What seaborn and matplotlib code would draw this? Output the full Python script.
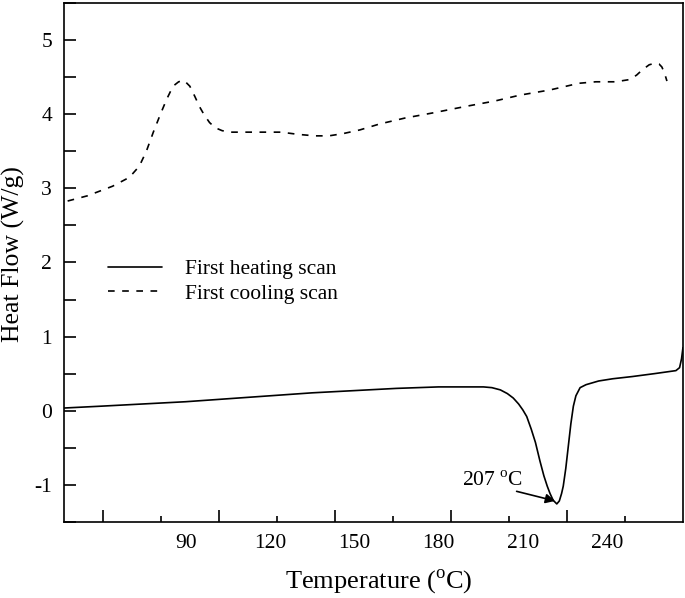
import numpy as np
import pandas as pd
import matplotlib
matplotlib.use("Agg")
import matplotlib.pyplot as plt
import seaborn as sns

# DSC curves
heat_temp = [46.8, 60, 75, 90, 105, 120, 135, 150, 165, 180, 190, 196, 199, 202,
             204.5, 206.6, 208.5, 210, 211.4, 213, 214.5, 216.1, 217.5, 218.7,
             219.7, 220.8, 222.1, 223, 223.8, 224.4, 225.3, 226.2, 227.1, 228,
             228.9, 230.4, 232.5, 237, 242, 249, 257, 264.5, 265.8, 266.5, 267]
heat_flow = [0.035, 0.06, 0.09, 0.12, 0.16, 0.20, 0.24, 0.27, 0.30, 0.32, 0.32,
             0.32, 0.31, 0.28, 0.23, 0.17, 0.09, 0.01, -0.08, -0.25, -0.43,
             -0.68, -0.88, -1.02, -1.12, -1.21, -1.26, -1.22, -1.12, -1.02,
             -0.78, -0.48, -0.18, 0.06, 0.20, 0.31, 0.35, 0.40, 0.43, 0.46,
             0.50, 0.54, 0.58, 0.70, 0.85]

cool_temp = [48, 55, 64, 70, 73.5, 76, 78.5, 81, 83.2, 85.5, 87.5, 89.4, 91.5,
             93.3, 95, 96.5, 98.5, 100.5, 103, 106, 112, 118, 124, 130, 136, 141,
             146, 152, 159, 168, 178, 190, 200, 209, 219.7, 230, 236, 243, 248,
             250.5, 252.5, 255, 257, 258.5, 259.5, 260.5, 261.3]
cool_flow = [2.83, 2.90, 3.03, 3.15, 3.30, 3.50, 3.76, 4.00, 4.20, 4.38, 4.44,
             4.46, 4.38, 4.24, 4.10, 4.00, 3.89, 3.82, 3.78, 3.76, 3.76, 3.76,
             3.76, 3.73, 3.71, 3.71, 3.74, 3.79, 3.87, 3.95, 4.02, 4.11, 4.18,
             4.26, 4.33, 4.42, 4.44, 4.44, 4.47, 4.53, 4.60, 4.67, 4.69, 4.68,
             4.64, 4.55, 4.45]

tick_labels = [90, 120, 150, 180, 210, 240]
peak_label = "207 $^{\\mathrm{o}}$C"

heat_df = pd.DataFrame({"T": heat_temp, "HF": heat_flow})
cool_df = pd.DataFrame({"T": cool_temp, "HF": cool_flow})

sns.set_style("ticks", {"axes.edgecolor": "black", "text.color": "black",
                        "xtick.color": "black", "ytick.color": "black",
                        "axes.labelcolor": "black"})
plt.rcParams["font.family"] = ["Liberation Serif", "DejaVu Serif"]
plt.rcParams["mathtext.fontset"] = "custom"
plt.rcParams["mathtext.rm"] = "Liberation Serif"
plt.rcParams["axes.unicode_minus"] = False

fig = plt.figure(figsize=(6.85, 5.98), dpi=100)
ax = fig.add_axes([0.0934, 0.1276, 0.9036, 0.8669])

sns.lineplot(data=heat_df, x="T", y="HF", ax=ax, color="black", lw=1.2,
             label="First heating scan")
sns.lineplot(data=cool_df, x="T", y="HF", ax=ax, color="black", lw=1.2,
             label="First cooling scan")
ax.lines[1].set_dashes((4, 4.5))

ax.set_xlim(46.7, 267.0)
ax.set_ylim(-1.5, 5.5)

# tick labels (no marks) on the main axis
ax.set_xticks(tick_labels)
ax.set_xticklabels([str(t) for t in tick_labels])
ax.tick_params(axis="x", length=0, pad=8.6, labelsize=15.5)
ax.set_yticks([-1, 0, 1, 2, 3, 4, 5])
ax.set_yticks(np.arange(-1.5, 5.6, 0.5), minor=True)
ax.tick_params(axis="y", which="both", direction="in", length=8.6, width=1.2,
               pad=8.6, labelsize=15.5)

# tick marks on the bottom edge sit on their own spacing
ax2 = ax.twiny()
ax2.set_xlim(36.6, 250)
ax2.xaxis.set_ticks_position("bottom")
ax2.set_xticks(np.arange(50, 250, 40))
ax2.set_xticks(np.arange(70, 250, 40), minor=True)
ax2.tick_params(axis="x", which="major", direction="in", length=8.6, width=1.2,
                labelbottom=False, labeltop=False, color="black")
ax2.tick_params(axis="x", which="minor", direction="in", length=4.3, width=1.2,
                labelbottom=False, labeltop=False, color="black")
for s in ax2.spines.values():
    s.set_visible(False)

for s in ax.spines.values():
    s.set_visible(True)
    s.set_linewidth(1.2)
    s.set_color("black")

ax.set_xlabel("Temperature ($^{\\mathrm{o}}$C)", fontsize=19)
ax.set_ylabel("Heat Flow (W/g)", fontsize=18.5)
ax.xaxis.set_label_coords(0.508, -0.087)
ax.yaxis.set_label_coords(-0.063, 0.517)

leg = ax.legend(loc="center left", bbox_to_anchor=(0.0716, 0.4637), frameon=False,
                fontsize=15.5, handlelength=2.48, handletextpad=1.08,
                labelspacing=0.2, borderpad=0, borderaxespad=0)
leg.get_lines()[1].set_dashes((4, 4.5))

ax.text(188.3, -1.02, peak_label, fontsize=15.5, ha="left", va="baseline")
ax.annotate("", xy=(221.5, -1.22), xytext=(207.8, -1.09),
            arrowprops=dict(arrowstyle="-|>", color="black", lw=1.2,
                            mutation_scale=14, shrinkA=0, shrinkB=0))

fig.savefig("out.png", dpi=100)
